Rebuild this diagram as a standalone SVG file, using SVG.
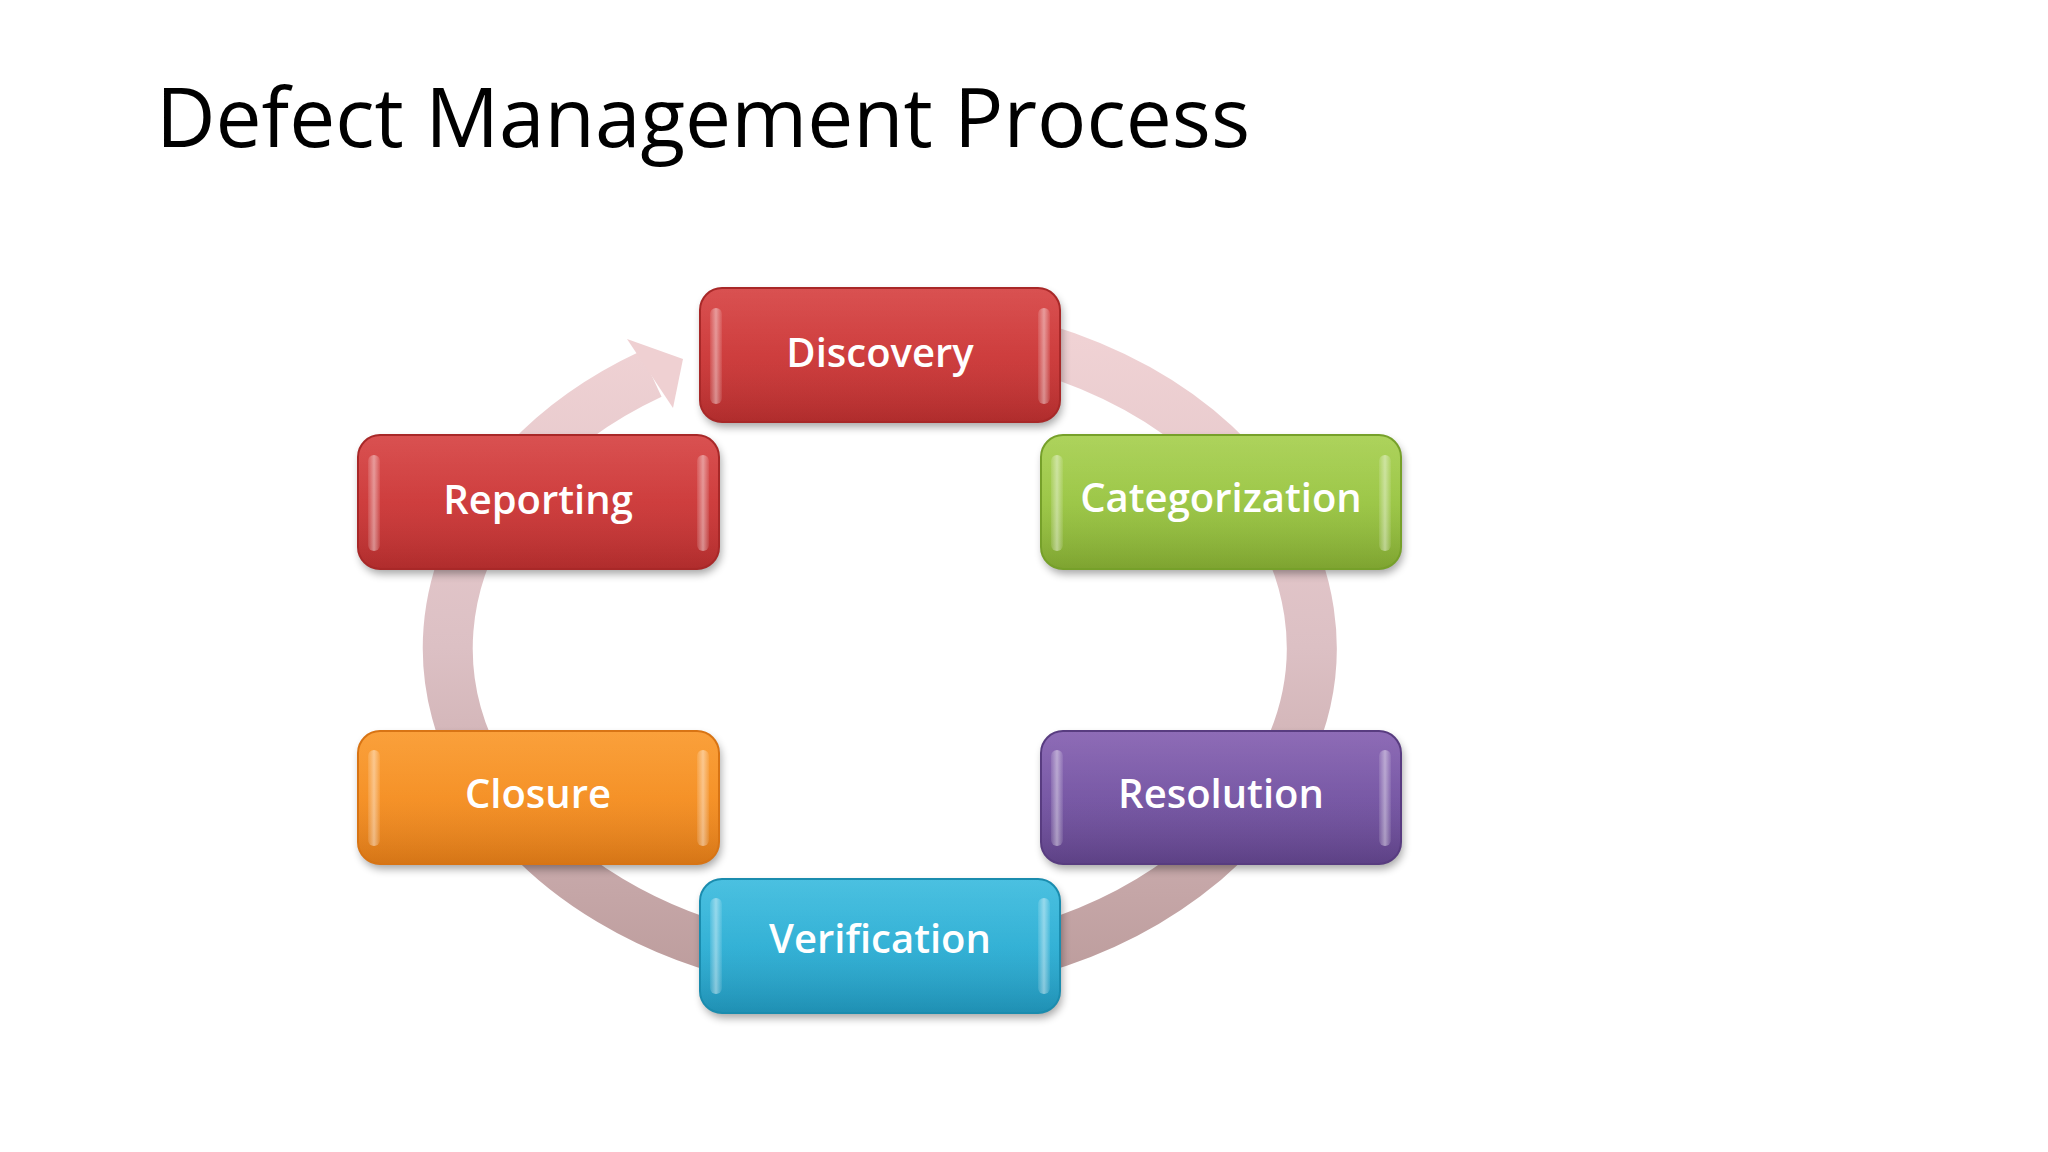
<svg xmlns="http://www.w3.org/2000/svg" width="2048" height="1152" viewBox="0 0 2048 1152">
  <defs>
    <linearGradient id="ringGrad" gradientUnits="userSpaceOnUse" x1="0" y1="320" x2="0" y2="975">
      <stop offset="0" stop-color="#f1d3d5"/>
      <stop offset="0.5" stop-color="#dcc0c4"/>
      <stop offset="1" stop-color="#bd9d9d"/>
    </linearGradient>
    <linearGradient id="gRed" x1="0" y1="0" x2="0" y2="1">
      <stop offset="0" stop-color="#d64242"/>
      <stop offset="0.5" stop-color="#cd3a3a"/>
      <stop offset="1" stop-color="#bb2f2f"/>
    </linearGradient>
    <linearGradient id="gGreen" x1="0" y1="0" x2="0" y2="1">
      <stop offset="0" stop-color="#a6cf4e"/>
      <stop offset="0.5" stop-color="#9bc645"/>
      <stop offset="1" stop-color="#86ae33"/>
    </linearGradient>
    <linearGradient id="gOrange" x1="0" y1="0" x2="0" y2="1">
      <stop offset="0" stop-color="#fa982a"/>
      <stop offset="0.5" stop-color="#f59024"/>
      <stop offset="1" stop-color="#e37d18"/>
    </linearGradient>
    <linearGradient id="gPurple" x1="0" y1="0" x2="0" y2="1">
      <stop offset="0" stop-color="#845fb0"/>
      <stop offset="0.5" stop-color="#7656a4"/>
      <stop offset="1" stop-color="#63458e"/>
    </linearGradient>
    <linearGradient id="gBlue" x1="0" y1="0" x2="0" y2="1">
      <stop offset="0" stop-color="#3bbbde"/>
      <stop offset="0.5" stop-color="#30b0d5"/>
      <stop offset="1" stop-color="#2199bf"/>
    </linearGradient>
    <linearGradient id="hl" x1="0" y1="0" x2="1" y2="0">
      <stop offset="0" stop-color="#ffffff" stop-opacity="0.1"/>
      <stop offset="0.5" stop-color="#ffffff" stop-opacity="0.45"/>
      <stop offset="1" stop-color="#ffffff" stop-opacity="0.08"/>
    </linearGradient>
    <linearGradient id="gloss" x1="0" y1="0" x2="0" y2="1">
      <stop offset="0" stop-color="#ffffff" stop-opacity="0.08"/>
      <stop offset="0.5" stop-color="#ffffff" stop-opacity="0.02"/>
      <stop offset="1" stop-color="#000000" stop-opacity="0.06"/>
    </linearGradient>
    <filter id="shadow" x="-10%" y="-10%" width="120%" height="130%">
      <feGaussianBlur stdDeviation="4"/>
    </filter>
  </defs>
  <style>
    .title { font-family: "Open Sans", "Liberation Sans", sans-serif; font-size: 82px; fill: #000000; }
    .label { font-family: "Open Sans", "Liberation Sans", sans-serif; font-size: 40px; font-weight: 600; fill: #ffffff; text-anchor: middle; }
    .shadow { fill: #000000; opacity: 0.35; filter: url(#shadow); }
    .edge { stroke-width: 2; }
    .hl { fill: url(#hl); }
    .gloss { fill: url(#gloss); }
    .ring { fill: none; stroke: url(#ringGrad); stroke-width: 50; }
    .head { fill: #efd0d2; }
  </style>

  <rect x="0" y="0" width="2048" height="1152" fill="#ffffff"/>

  <text class="title" x="156" y="147" textLength="1094" lengthAdjust="spacingAndGlyphs">Defect Management Process</text>

  <g id="connectors">
    <path class="ring" d="M 879 325 A 432 323 0 1 1 651 374"/>
    <polygon class="head" points="627,339 683,359 673,408"/>
  </g>

  <g id="node-discovery">
    <rect class="shadow" x="702" y="293" width="360" height="134" rx="22"/>
    <rect x="700" y="288" width="360" height="134" rx="22" fill="url(#gRed)" stroke="#a82828" class="edge"/>
    <rect class="gloss" x="701" y="289" width="358" height="132" rx="21"/>
    <rect class="hl" x="710" y="308" width="12" height="96" rx="6"/>
    <rect class="hl" x="1038" y="308" width="12" height="96" rx="6"/>
    <text class="label" x="880" y="367">Discovery</text>
  </g>

  <g id="node-reporting">
    <rect class="shadow" x="360" y="440" width="361" height="134" rx="22"/>
    <rect x="358" y="435" width="361" height="134" rx="22" fill="url(#gRed)" stroke="#a82828" class="edge"/>
    <rect class="gloss" x="359" y="436" width="359" height="132" rx="21"/>
    <rect class="hl" x="368" y="455" width="12" height="96" rx="6"/>
    <rect class="hl" x="697" y="455" width="12" height="96" rx="6"/>
    <text class="label" x="538" y="514">Reporting</text>
  </g>

  <g id="node-categorization">
    <rect class="shadow" x="1043" y="440" width="360" height="134" rx="22"/>
    <rect x="1041" y="435" width="360" height="134" rx="22" fill="url(#gGreen)" stroke="#76a02a" class="edge"/>
    <rect class="gloss" x="1042" y="436" width="358" height="132" rx="21"/>
    <rect class="hl" x="1051" y="455" width="12" height="96" rx="6"/>
    <rect class="hl" x="1379" y="455" width="12" height="96" rx="6"/>
    <text class="label" x="1221" y="512">Categorization</text>
  </g>

  <g id="node-closure">
    <rect class="shadow" x="360" y="736" width="361" height="133" rx="22"/>
    <rect x="358" y="731" width="361" height="133" rx="22" fill="url(#gOrange)" stroke="#d87414" class="edge"/>
    <rect class="gloss" x="359" y="732" width="359" height="131" rx="21"/>
    <rect class="hl" x="368" y="750" width="12" height="96" rx="6"/>
    <rect class="hl" x="697" y="750" width="12" height="96" rx="6"/>
    <text class="label" x="538" y="808">Closure</text>
  </g>

  <g id="node-resolution">
    <rect class="shadow" x="1043" y="736" width="360" height="133" rx="22"/>
    <rect x="1041" y="731" width="360" height="133" rx="22" fill="url(#gPurple)" stroke="#583c80" class="edge"/>
    <rect class="gloss" x="1042" y="732" width="358" height="131" rx="21"/>
    <rect class="hl" x="1051" y="750" width="12" height="96" rx="6"/>
    <rect class="hl" x="1379" y="750" width="12" height="96" rx="6"/>
    <text class="label" x="1221" y="808">Resolution</text>
  </g>

  <g id="node-verification">
    <rect class="shadow" x="702" y="884" width="360" height="134" rx="22"/>
    <rect x="700" y="879" width="360" height="134" rx="22" fill="url(#gBlue)" stroke="#1a8cae" class="edge"/>
    <rect class="gloss" x="701" y="880" width="358" height="132" rx="21"/>
    <rect class="hl" x="710" y="898" width="12" height="96" rx="6"/>
    <rect class="hl" x="1038" y="898" width="12" height="96" rx="6"/>
    <text class="label" x="880" y="953">Verification</text>
  </g>
</svg>
